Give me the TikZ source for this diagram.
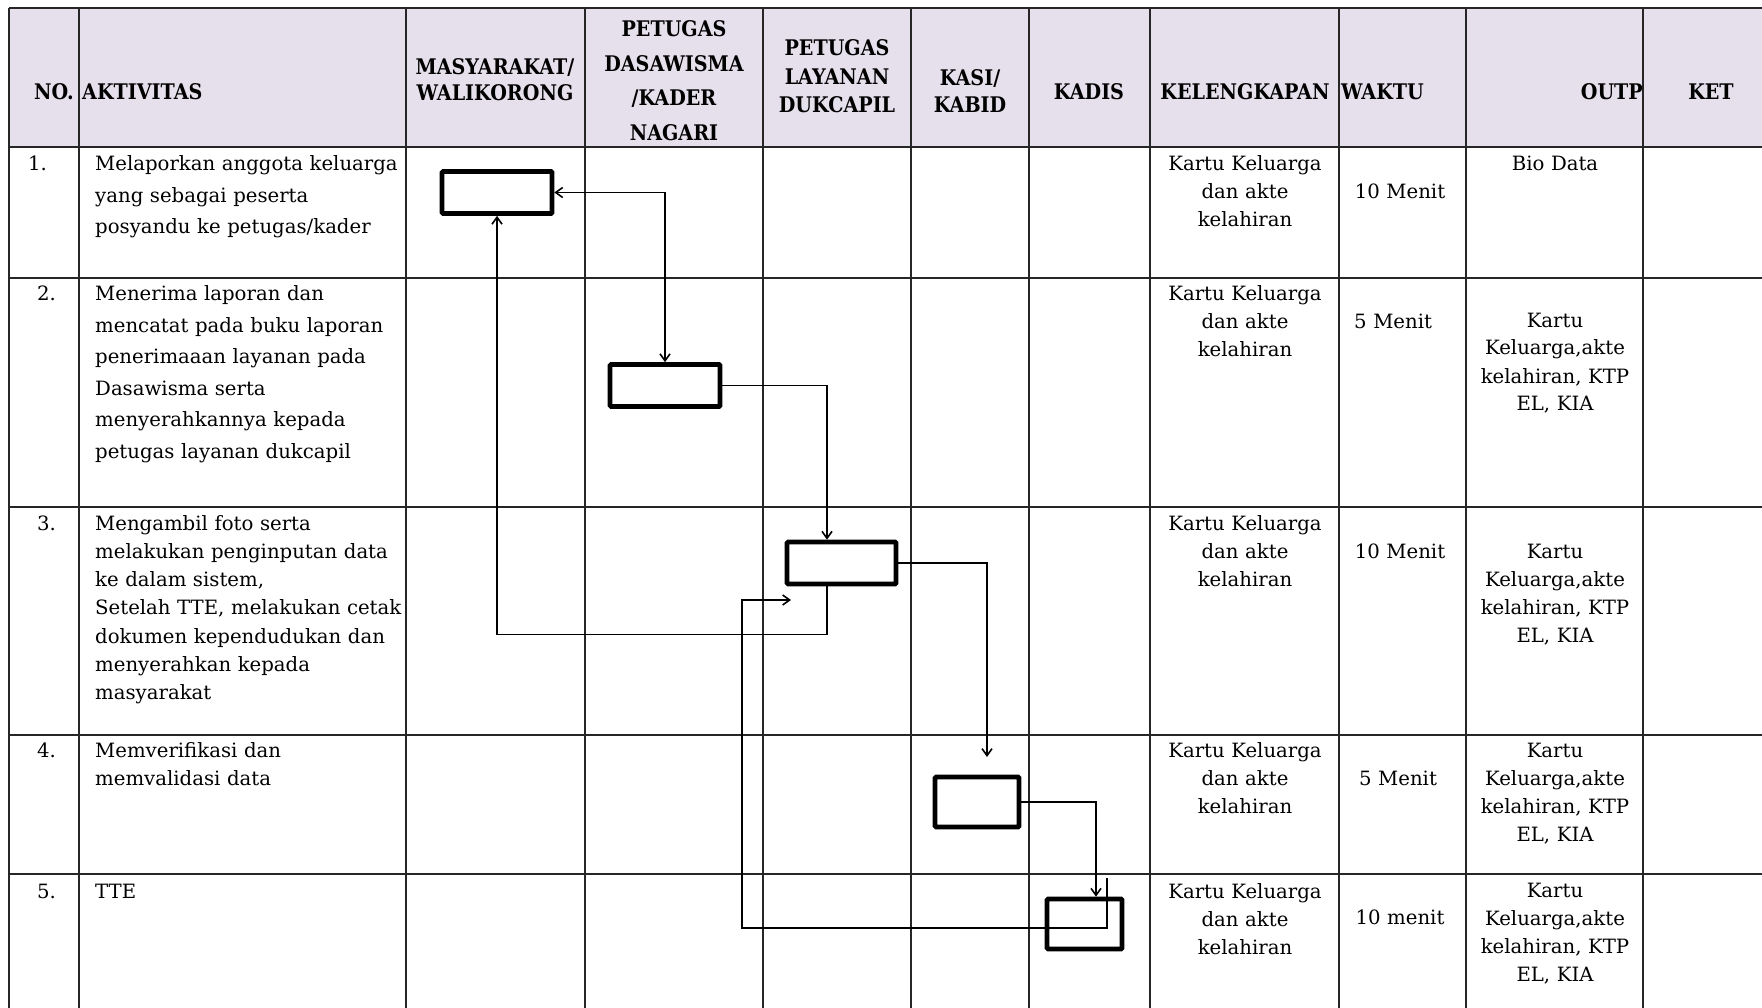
\documentclass[tikz,border=0pt]{standalone}
\usepackage{fontspec}
\setmainfont{DejaVu Serif}
\newfontfamily\kepalafont[FakeStretch=0.89]{DejaVu Serif}
\usetikzlibrary{arrows.meta,positioning}
\definecolor{lavender}{RGB}{229,224,236}

\begin{document}
\begin{tikzpicture}[
    x=1pt, y=-1pt,
    %framed,
    garis/.style={line width=1.8pt, draw=black!85},
    kotak/.style={rectangle, draw=black, line width=4.6pt, rounded corners=1pt, inner sep=0pt, minimum width=110pt, minimum height=42pt},
    alur/.style={line width=1.6pt, draw=black, >={Straight Barb[length=7pt,width=10pt]}},
    kepala/.style={font=\kepalafont\bfseries\fontsize{21.5}{#1}\selectfont, text width=175pt, align=center, inner sep=0pt, anchor=base},
    kepala/.default=27,
    isi/.style={font=\fontsize{19.7}{#1}\selectfont, text width=315pt, align=left, inner sep=0pt, anchor=base west},
    isi/.default=31.5,
    tengah/.style={font=\fontsize{19.7}{28}\selectfont, text width=180pt, align=center, inner sep=0pt, anchor=base}
    ]
    \useasboundingbox (0,0) rectangle (1762,1008);

% table
\fill[lavender] (9,8) rectangle (1762,147);
\draw[garis] (9,8) -- (1762,8) (9,147) -- (1762,147) (9,278) -- (1762,278)
    (9,507) -- (1762,507) (9,735) -- (1762,735) (9,874) -- (1762,874);
\draw[garis] (9,8) -- (9,1008) (79,8) -- (79,1008) (406,8) -- (406,1008)
    (585,8) -- (585,1008) (763,8) -- (763,1008) (911,8) -- (911,1008)
    (1029,8) -- (1029,1008) (1150,8) -- (1150,1008) (1339,8) -- (1339,1008)
    (1466,8) -- (1466,1008) (1643,8) -- (1643,1008);

% header
\node[kepala, text width=60pt] (hNo) at (54,100) {NO.};
\node[kepala, anchor=base west, align=left] (hAktivitas) at (82,100) {AKTIVITAS};
\node[kepala=26] (hMasyarakat) at (495,75) {MASYARAKAT/\\WALIKORONG};
\node[kepala=34.5] (hKader) at (674,37) {PETUGAS\\DASAWISMA\\/KADER\\NAGARI};
\node[kepala=28.5] (hDukcapil) at (837,56) {PETUGAS\\LAYANAN\\DUKCAPIL};
\node[kepala] (hKasi) at (970,86) {KASI/\\KABID};
\node[kepala] (hKadis) at (1089,100) {KADIS};
\node[kepala] (hLengkap) at (1245,100) {KELENGKAPAN};
\node[kepala, anchor=base west, align=left] (hWaktu) at (1341,100) {WAKTU};
\node[kepala, anchor=base east, align=right] (hOutput) at (1643,100) {OUTP}; % cut off
\node[kepala] (hKet) at (1711,100) {KET};

% row 1
\node[isi] (no1) at (28,171) {1.};
\node[isi] (akt1) at (95,171) {Melaporkan anggota keluarga\\yang sebagai peserta\\posyandu ke petugas/kader};
\node[tengah] (lengkap1) at (1245,171) {Kartu Keluarga\\dan akte\\kelahiran};
\node[tengah] (waktu1) at (1400,199) {10 Menit};
\node[tengah] (output1) at (1555,171) {Bio Data};

% row 2
\node[isi] (no2) at (37,301) {2.};
\node[isi] (akt2) at (95,301) {Menerima laporan dan\\mencatat pada buku laporan\\penerimaaan layanan pada\\Dasawisma serta\\menyerahkannya kepada\\petugas layanan dukcapil};
\node[tengah] (lengkap2) at (1245,301) {Kartu Keluarga\\dan akte\\kelahiran};
\node[isi] (waktu2) at (1354,329) {5 Menit};
\node[tengah] (output2) at (1555,327) {Kartu\\Keluarga,akte\\kelahiran, KTP\\EL, KIA};

% row 3
\node[isi] (no3) at (37,530) {3.};
\node[isi=28.3] (akt3) at (95,530) {Mengambil foto serta\\melakukan penginputan data\\ke dalam sistem,\\Setelah TTE, melakukan cetak\\dokumen kependudukan dan\\menyerahkan kepada\\masyarakat};
\node[tengah] (lengkap3) at (1245,530) {Kartu Keluarga\\dan akte\\kelahiran};
\node[tengah] (waktu3) at (1400,558) {10 Menit};
\node[tengah] (output3) at (1555,558) {Kartu\\Keluarga,akte\\kelahiran, KTP\\EL, KIA};

% row 4
\node[isi] (no4) at (37,757) {4.};
\node[isi=28] (akt4) at (95,757) {Memverifikasi dan\\memvalidasi data};
\node[tengah] (lengkap4) at (1245,757) {Kartu Keluarga\\dan akte\\kelahiran};
\node[tengah] (waktu4) at (1398,785) {5 Menit};
\node[tengah] (output4) at (1555,757) {Kartu\\Keluarga,akte\\kelahiran, KTP\\EL, KIA};

% row 5
\node[isi] (no5) at (37,898) {5.};
\node[isi] (akt5) at (95,898) {TTE};
\node[tengah] (lengkap5) at (1245,898) {Kartu Keluarga\\dan akte\\kelahiran};
\node[tengah] (waktu5) at (1400,924) {10 menit};
\node[tengah] (output5) at (1555,897) {Kartu\\Keluarga,akte\\kelahiran, KTP\\EL, KIA};

% flow boxes
\node[kotak] (masyarakat) at (497,192.5) {};
\node[kotak] (kader) at (665,385.5) {};
\node[kotak, minimum width=109pt] (dukcapil) at (841.5,563) {};
\node[kotak, minimum width=84pt, minimum height=50pt] (kasi) at (977,802) {};
\node[kotak, minimum width=75pt, minimum height=50pt] (kadis) at (1084.5,924) {};

\coordinate (ujung4) at (987,757);
\coordinate (awal6) at (1107,878);
\coordinate (belok6) at (742,928);
\coordinate (ujung6) at (791,600);

\draw[alur, <->] (masyarakat.east) -| (kader.north);
\draw[alur, ->] (kader.east) -| ([xshift=-14.5pt]dukcapil.north);
\draw[alur, ->] ([xshift=-14.5pt]dukcapil.south) -- ++(0,48) -| (masyarakat.south); % back to masyarakat
\draw[alur, ->] (dukcapil.east) -| (ujung4);
\draw[alur, ->] (kasi.east) -| ([xshift=11.5pt]kadis.north);
\draw[alur, ->] (awal6) |- (belok6) |- (ujung6); % after TTE
\end{tikzpicture}
\end{document}
